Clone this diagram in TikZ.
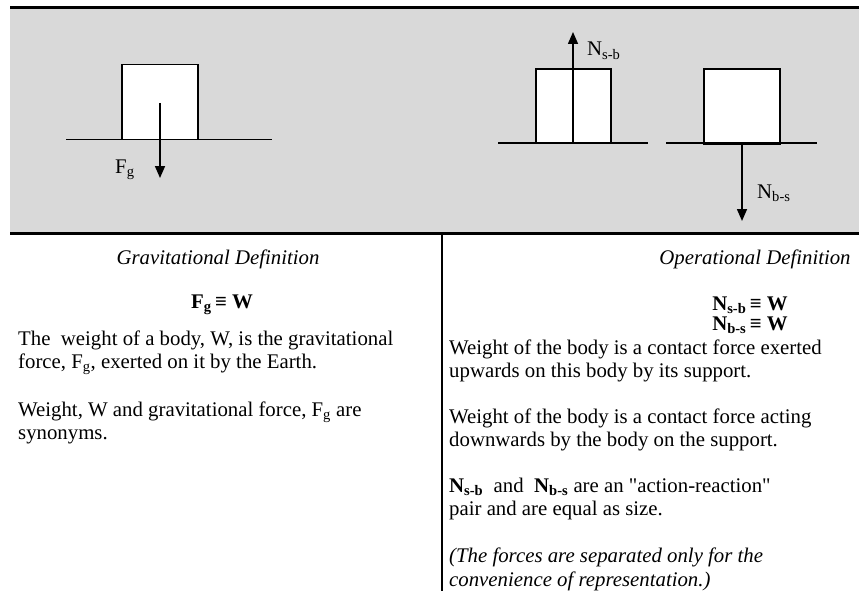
\documentclass[tikz,border=0pt]{standalone}
\usepackage{fontspec}
\setmainfont{Liberation Serif}[Ligatures=TeXOff]
\usetikzlibrary{arrows.meta}
\definecolor{bggray}{RGB}{217,217,217}
\tikzset{
  txt/.style={anchor=base west, inner sep=0pt, font=\fontsize{20.8}{23.5}\selectfont},
  ctxt/.style={anchor=base, inner sep=0pt, font=\fontsize{20.8}{23.5}\selectfont},
  bodybox/.style={draw=black, fill=white, line width=1.3pt, inner sep=0pt},
  ground/.style={draw=black, line width=1.3pt},
  force/.style={draw=black, line width=1.6pt, -{Triangle[width=10pt,length=12pt]}},
  rule/.style={draw=black, line width=3pt}
}
\begin{document}
\begin{tikzpicture}[x=1pt,y=-1pt]
\useasboundingbox (0,0) rectangle (859,591);
% gray band
\fill[bggray] (10,9) rectangle (859,233);
\coordinate (tl) at (10,8); \coordinate (tr) at (859,8);
\coordinate (bl) at (10,233.5); \coordinate (br) at (859,233.5);
\draw[rule] (tl) -- (tr);
\draw[rule] (bl) -- (br);
\coordinate (vt) at (442,233); \coordinate (vb) at (442,591);
\draw[draw=black, line width=2.5pt] (vt) -- (vb);

% left figure
\coordinate (g1a) at (66,139.5); \coordinate (g1b) at (272,139.5);
\draw[ground] (g1a) -- (g1b);
\node[bodybox, minimum width=76pt, minimum height=75pt] (boxL) at (160,102) {};
\coordinate (fgs) at (160,103); \coordinate (fge) at (160,178);
\draw[force] (fgs) -- (fge);
\node[txt] (fglab) at (115,173) {F\textsubscript{g}};

% right figure 1
\coordinate (g2a) at (498,143); \coordinate (g2b) at (648,143);
\draw[ground] (g2a) -- (g2b);
\node[bodybox, minimum width=75pt, minimum height=74pt] (boxR1) at (573.5,106) {};
\coordinate (nsbs) at (573,143); \coordinate (nsbe) at (573,32);
\draw[force] (nsbs) -- (nsbe);
\node[txt] (nsblab) at (587,56) {N\textsubscript{s-b}};

% right figure 2
\coordinate (g3a) at (666,143); \coordinate (g3b) at (817,143);
\draw[draw=black, line width=2pt] (g3a) -- (g3b);
\node[bodybox, minimum width=76pt, minimum height=74pt] (boxR2) at (742,106) {};
\draw[draw=black, line width=3pt] (boxR2.south west) -- (boxR2.south east);
\coordinate (nbss) at (742,143); \coordinate (nbse) at (742,221);
\draw[force] (nbss) -- (nbse);
\node[txt] (nbslab) at (757,198) {N\textsubscript{b-s}};

% left column text
\node[ctxt] (gdef) at (218,264) {\itshape Gravitational Definition};
\node[ctxt] (geq) at (222,308) {\bfseries F\textsubscript{g}\,≡ W};
\node[txt] (l1) at (18,345) {The\ \ weight of a body, W, is the gravitational};
\node[txt] (l2) at (18,368.5) {force, F\textsubscript{g}, exerted on it by the Earth.};
\node[txt] (l3) at (18,416) {Weight, W and gravitational force, F\textsubscript{g} are};
\node[txt] (l4) at (18,439.5) {synonyms.};

% right column text
\node[ctxt] (odef) at (755,264) {\itshape Operational Definition};
\node[ctxt] (req1) at (750,310) {\bfseries N\textsubscript{s-b}\,≡ W};
\node[ctxt] (req2) at (750,330) {\bfseries N\textsubscript{b-s}\,≡ W};
\node[txt] (r1) at (449,354) {Weight of the body is a contact force exerted};
\node[txt] (r2) at (449,377.5) {upwards on this body by its support.};
\node[txt] (r3) at (449,423) {Weight of the body is a contact force acting};
\node[txt] (r4) at (449,446.5) {downwards by the body on the support.};
\node[txt] (r5) at (449,492) {\textbf{N\textsubscript{s-b}}\ \ and\ \ \textbf{N\textsubscript{b-s}} are an "action-reaction"};
\node[txt] (r6) at (449,515.5) {pair and are equal as size.};
\node[txt] (r7) at (449,562) {\itshape (The forces are separated only for the};
\node[txt] (r8) at (449,586) {\itshape convenience of representation.)};
\end{tikzpicture}
\end{document}
